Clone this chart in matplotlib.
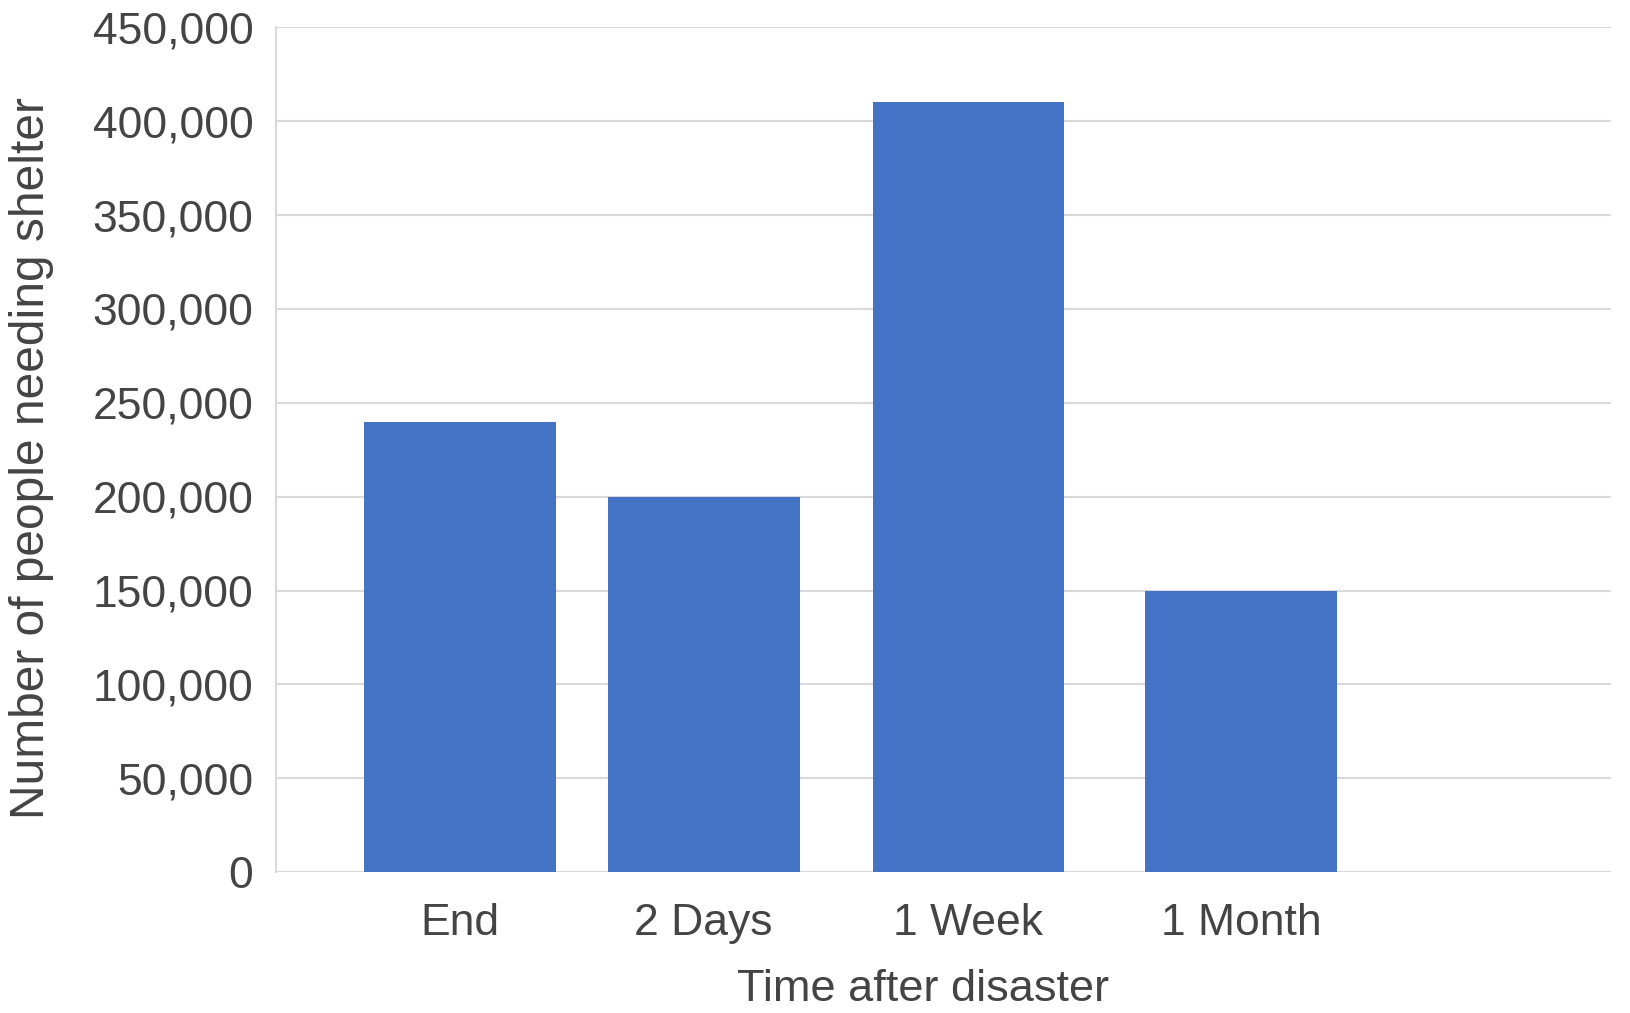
import matplotlib
matplotlib.use("Agg")
import matplotlib.pyplot as plt
from matplotlib.ticker import FuncFormatter

# data
categories = ["End", "2 Days", "1 Week", "1 Month"]
people = [240000, 200000, 410000, 150000]
# bar centres on the x axis (bars are unevenly spaced in the original)
x_pos = [0.96, 2.23, 3.61, 5.03]
y_ticks = [0, 50000, 100000, 150000, 200000, 250000, 300000, 350000, 400000, 450000]

plt.rcParams['font.family'] = ['Liberation Sans', 'DejaVu Sans']

fig = plt.figure(figsize=(16.31, 10.13), dpi=100)
ax = fig.add_axes([0.169, 0.139, 0.819, 0.834])

ax.bar(x_pos, people, width=1.0, color='#4472C4', zorder=3)

ax.set_xlim(0, 6.96)
ax.set_ylim(0, 450000)
ax.set_yticks(y_ticks)
ax.yaxis.set_major_formatter(FuncFormatter(lambda v, p: '{:,.0f}'.format(v)))
ax.set_xticks(x_pos)
ax.set_xticklabels(categories)

ax.grid(axis='y', color='#d9d9d9', linewidth=1.5, zorder=0)
for s in ['top', 'right', 'bottom']:
    ax.spines[s].set_visible(False)
ax.spines['left'].set_color('#d9d9d9')
ax.spines['left'].set_linewidth(1.5)

ax.tick_params(axis='both', length=0, labelsize=32, colors='#444444')
ax.tick_params(axis='y', pad=16)
ax.tick_params(axis='x', pad=22)

ax.set_ylabel('Number of people needing shelter', fontsize=34.5, color='#444444')
ax.yaxis.set_label_coords(-0.166, 0.49)
ax.set_xlabel('Time after disaster', fontsize=32.5, color='#444444')
ax.xaxis.set_label_coords(0.485, -0.115)

fig.savefig('out.png', dpi=100)
